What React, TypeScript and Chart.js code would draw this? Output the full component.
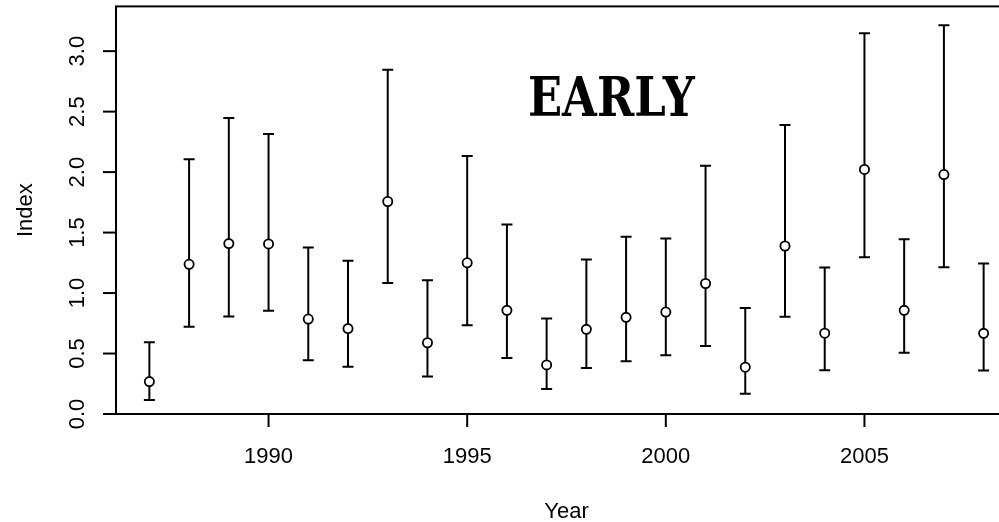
import React, { useEffect, useRef } from 'react';
import { Chart, registerables } from 'chart.js';

Chart.register(...registerables);

const years = [1987, 1988, 1989, 1990, 1991, 1992, 1993, 1994, 1995, 1996, 1997, 1998, 1999, 2000, 2001, 2002, 2003, 2004, 2005, 2006, 2007, 2008];
const indexValues = [0.268, 1.238, 1.409, 1.406, 0.785, 0.706, 1.757, 0.589, 1.25, 0.857, 0.406, 0.7, 0.799, 0.843, 1.079, 0.387, 1.389, 0.668, 2.022, 0.857, 1.98, 0.667];
const lowerValues = [0.115, 0.722, 0.807, 0.853, 0.445, 0.39, 1.083, 0.31, 0.733, 0.464, 0.206, 0.381, 0.437, 0.486, 0.563, 0.167, 0.804, 0.362, 1.295, 0.507, 1.213, 0.36];
const upperValues = [0.593, 2.107, 2.448, 2.316, 1.376, 1.268, 2.847, 1.105, 2.133, 1.567, 0.789, 1.277, 1.466, 1.451, 2.053, 0.876, 2.389, 1.212, 3.148, 1.444, 3.214, 1.244];

const xTickValues = [1990, 1995, 2000, 2005];
const xTickLabels = ['1990', '1995', '2000', '2005'];
const yTickValues = [0, 0.5, 1, 1.5, 2, 2.5, 3];
const yTickLabels = ['0.0', '0.5', '1.0', '1.5', '2.0', '2.5', '3.0'];

const xTitle = 'Year';
const yTitle = 'Index';
const panelLabel = 'EARLY';
const panelLabelX = 1998.63;
const panelLabelY = 2.465;

const X_MIN = 1986.16;
const X_MAX = 2008.84;
const Y_MIN = 0;
const Y_MAX = 3.37;

const SANS = '"Liberation Sans", Arial, sans-serif';

const rPlotPlugin = {
  id: 'rPlot',
  beforeDatasetsDraw(chart: any) {
    const ctx = chart.ctx as CanvasRenderingContext2D;
    const xs = chart.scales.x;
    const ys = chart.scales.y;
    const area = chart.chartArea;
    ctx.save();
    ctx.strokeStyle = '#000';
    ctx.fillStyle = '#000';

    // error bars
    ctx.lineWidth = 2;
    const cap = 5.5;
    for (let i = 0; i < years.length; i++) {
      const px = xs.getPixelForValue(years[i]);
      const pl = ys.getPixelForValue(lowerValues[i]);
      const pu = ys.getPixelForValue(upperValues[i]);
      ctx.beginPath();
      ctx.moveTo(px, pl);
      ctx.lineTo(px, pu);
      ctx.moveTo(px - cap, pu);
      ctx.lineTo(px + cap, pu);
      ctx.moveTo(px - cap, pl);
      ctx.lineTo(px + cap, pl);
      ctx.stroke();
    }

    // box
    ctx.lineWidth = 2;
    ctx.strokeRect(area.left, area.top, area.right - area.left, area.bottom - area.top);

    // y ticks
    const tickLen = 13;
    ctx.lineWidth = 2;
    ctx.font = `22px ${SANS}`;
    for (let i = 0; i < yTickValues.length; i++) {
      const py = ys.getPixelForValue(yTickValues[i]);
      ctx.beginPath();
      ctx.moveTo(area.left - tickLen, py);
      ctx.lineTo(area.left, py);
      ctx.stroke();
      ctx.save();
      ctx.translate(area.left - 32, py);
      ctx.rotate(-Math.PI / 2);
      ctx.textAlign = 'center';
      ctx.textBaseline = 'alphabetic';
      ctx.fillText(yTickLabels[i], 0, 0);
      ctx.restore();
    }

    // x ticks
    for (let i = 0; i < xTickValues.length; i++) {
      const px = xs.getPixelForValue(xTickValues[i]);
      ctx.beginPath();
      ctx.moveTo(px, area.bottom);
      ctx.lineTo(px, area.bottom + tickLen);
      ctx.stroke();
      ctx.textAlign = 'center';
      ctx.textBaseline = 'alphabetic';
      ctx.fillText(xTickLabels[i], px, area.bottom + 49);
    }

    // axis titles
    const cx = (area.left + area.right) / 2;
    const cy = (area.top + area.bottom) / 2;
    ctx.textAlign = 'center';
    ctx.fillText(xTitle, cx, area.bottom + 104);
    ctx.save();
    ctx.translate(32, cy);
    ctx.rotate(-Math.PI / 2);
    ctx.fillText(yTitle, 0, 0);
    ctx.restore();

    // panel label
    ctx.save();
    ctx.font = `bold 55px "DejaVu Serif", "Liberation Serif", serif`;
    const w = ctx.measureText(panelLabel).width;
    const target = 167;
    const lx = xs.getPixelForValue(panelLabelX);
    const ly = ys.getPixelForValue(panelLabelY);
    ctx.translate(lx, ly);
    ctx.scale(target / w, 1);
    ctx.textAlign = 'center';
    ctx.textBaseline = 'alphabetic';
    ctx.fillText(panelLabel, 0, 0);
    ctx.restore();

    ctx.restore();
  },
};

export default function App() {
  const canvasRef = useRef<HTMLCanvasElement | null>(null);

  useEffect(() => {
    const canvas = canvasRef.current;
    if (!canvas) return;
    const chart = new Chart(canvas, {
      type: 'scatter',
      data: {
        datasets: [
          {
            data: years.map((yr, i) => ({ x: yr, y: indexValues[i] })),
            pointRadius: 4.6,
            pointHoverRadius: 4.6,
            pointBackgroundColor: '#ffffff',
            pointBorderColor: '#000000',
            pointBorderWidth: 1.8,
            showLine: false,
          },
        ],
      },
      options: {
        responsive: false,
        animation: false,
        devicePixelRatio: 1,
        layout: { padding: { left: 116, right: 23, top: 5, bottom: 108 } },
        plugins: { legend: { display: false }, tooltip: { enabled: false } },
        scales: {
          x: { type: 'linear', min: X_MIN, max: X_MAX, display: false },
          y: { type: 'linear', min: Y_MIN, max: Y_MAX, display: false },
        },
      },
      plugins: [rPlotPlugin],
    });
    return () => chart.destroy();
  }, []);

  return (
    <div style={{ position: 'fixed', left: 0, top: 0, width: 999, height: 522, overflow: 'hidden', background: '#fff' }}>
      <canvas ref={canvasRef} width={1040} height={522} style={{ display: 'block' }} />
    </div>
  );
}
